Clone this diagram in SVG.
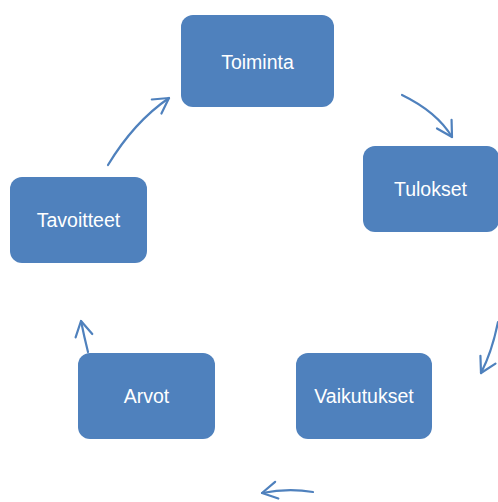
<svg xmlns="http://www.w3.org/2000/svg" width="498" height="502" viewBox="0 0 498 502">
<style>
.box{fill:#4F81BD;}
.lbl{font-family:"Liberation Sans",Arial,sans-serif;font-size:19.5px;fill:#fff;text-anchor:middle;dominant-baseline:central;}
.arr{fill:none;stroke:#4F81BD;stroke-width:2.2;stroke-linecap:round;marker-end:url(#ah);}
</style>
<defs>
<marker id="ah" viewBox="0 0 20 20" refX="18" refY="10" markerWidth="20" markerHeight="20" markerUnits="userSpaceOnUse" orient="auto">
<path d="M3,1.5 L18,10 L3,18.5" fill="none" stroke="#4F81BD" stroke-width="2.2" stroke-linecap="round" stroke-linejoin="round"/>
</marker>
</defs>
<rect width="498" height="502" fill="#fff"/>
<g id="connectors">
<path class="arr" d="M402,95 Q437,112 452,137"/>
<path class="arr" d="M498,322 Q492,352 481,373"/>
<path class="arr" d="M313,492 Q288,488 262,493"/>
<path class="arr" d="M88,352 Q84,336 81,321"/>
<path class="arr" d="M108,165 Q134,122 169,98"/>
</g>
<g id="node-toiminta"><rect class="box" x="181" y="15" width="153" height="92" rx="12"/><text class="lbl" x="257.5" y="62">Toiminta</text></g>
<g id="node-tulokset"><rect class="box" x="363" y="146" width="136" height="86" rx="12"/><text class="lbl" x="430.5" y="189">Tulokset</text></g>
<g id="node-vaikutukset"><rect class="box" x="296" y="353" width="136" height="86" rx="12"/><text class="lbl" x="364" y="396">Vaikutukset</text></g>
<g id="node-arvot"><rect class="box" x="78" y="353" width="137" height="86" rx="12"/><text class="lbl" x="146.5" y="396">Arvot</text></g>
<g id="node-tavoitteet"><rect class="box" x="10" y="177" width="137" height="86" rx="12"/><text class="lbl" x="78.5" y="220">Tavoitteet</text></g>
</svg>
